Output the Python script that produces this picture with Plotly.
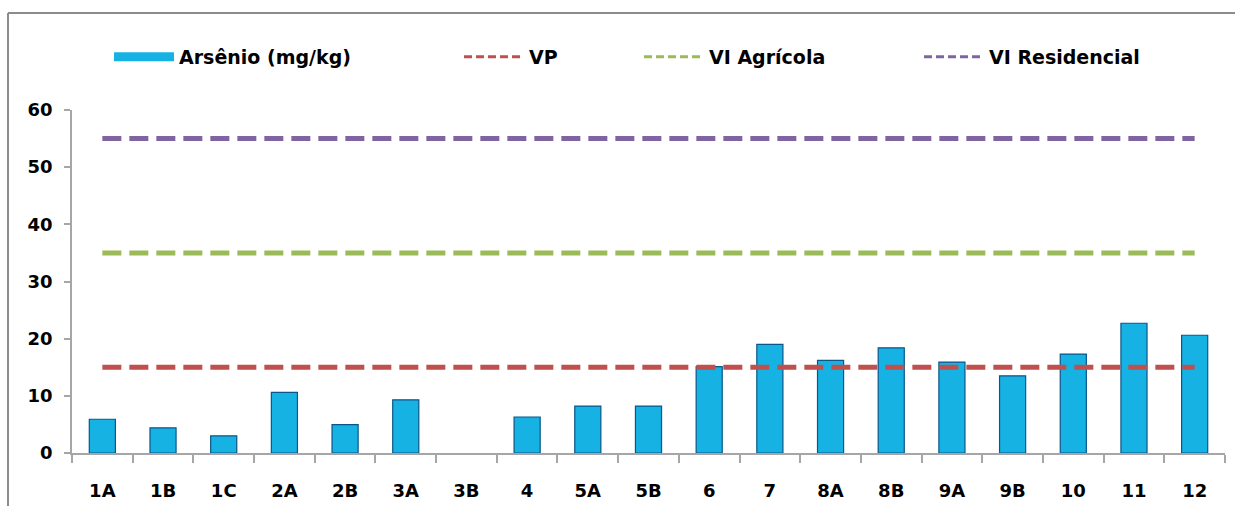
import plotly.graph_objects as go

categories = ["1A", "1B", "1C", "2A", "2B", "3A", "3B", "4", "5A", "5B",
              "6", "7", "8A", "8B", "9A", "9B", "10", "11", "12"]
arsenio = [5.9, 4.4, 3.0, 10.6, 4.95, 9.3, None, 6.3, 8.2, 8.2,
           15.1, 19.0, 16.2, 18.4, 15.9, 13.5, 17.3, 22.7, 20.6]
vp = [15] * len(categories)
vi_agricola = [35] * len(categories)
vi_residencial = [55] * len(categories)
y_ticks = [0, 10, 20, 30, 40, 50, 60]

FONT = "DejaVu Sans"
AXIS_GREY = "#a6a6a6"
BAR_COLOR = "#16b2e4"

fig = go.Figure()
fig.add_trace(go.Bar(
    x=categories, y=arsenio, name="Arsênio (mg/kg)", showlegend=False,
    marker=dict(color=BAR_COLOR, line=dict(color="#0b5688", width=1.2)),
))
line_series = [(vp, "VP", "#c0504d"),
               (vi_agricola, "VI Agrícola", "#9bbb59"),
               (vi_residencial, "VI Residencial", "#8064a2")]
for vals, name, color in line_series:
    fig.add_trace(go.Scatter(
        x=categories, y=vals, name=name, mode="lines", showlegend=False,
        line=dict(color=color, width=5, dash="19px,8px"),
    ))

# legend entries (legend-only keys styled like the reference legend)
legend_keys = [("Arsênio (mg/kg)", BAR_COLOR, 9, "solid", "legend"),
               ("VP", "#c0504d", 3, "8px,4px", "legend2"),
               ("VI Agrícola", "#9bbb59", 3, "8px,4px", "legend3"),
               ("VI Residencial", "#8064a2", 3, "8px,4px", "legend4")]
for name, color, w, dash, lg in legend_keys:
    fig.add_trace(go.Scatter(
        x=[None], y=[None], name=f"<b>{name}</b>", mode="lines", legend=lg,
        line=dict(color=color, width=w, dash=dash), hoverinfo="skip",
    ))

def leg(xpx):
    return dict(orientation="h", x=(xpx - 72) / 1153, xanchor="left",
                y=1.155, yanchor="middle", itemwidth=60,
                font=dict(family=FONT, size=19, color="black"),
                bgcolor="rgba(0,0,0,0)")

fig.update_layout(
    width=1235, height=506,
    margin=dict(l=72, r=10, t=110, b=53, autoexpand=False),
    paper_bgcolor="white", plot_bgcolor="white",
    bargap=0.57,
    font=dict(family=FONT, size=18, color="black"),
    showlegend=True,
    legend=leg(109), legend2=leg(459), legend3=leg(639), legend4=leg(919),
    xaxis=dict(type="category", showgrid=False, showline=True, linecolor=AXIS_GREY,
               linewidth=2, ticks="outside", tickson="boundaries", ticklen=8,
               tickcolor=AXIS_GREY, tickwidth=1.5, automargin=False,
               tickfont=dict(family=FONT, size=18, color="black", weight="bold"),
               ticklabelstandoff=20, fixedrange=True),
    yaxis=dict(range=[0, 60], tickvals=y_ticks, showgrid=False, showline=True,
               linecolor=AXIS_GREY, linewidth=1.5, ticks="outside", ticklen=6,
               tickcolor=AXIS_GREY, tickwidth=1.5, zeroline=False, automargin=False,
               tickfont=dict(family=FONT, size=18, color="black", weight="bold"),
               ticklabelstandoff=8, fixedrange=True),
    shapes=[dict(type="line", xref="paper", yref="paper",
                 x0=-0.0555, x1=1.1, y0=1.2828, y1=1.2828,
                 line=dict(color="#8c8c8c", width=2), layer="below"),
            dict(type="line", xref="paper", yref="paper",
                 x0=-0.0555, x1=-0.0555, y0=-0.3, y1=1.2828,
                 line=dict(color="#8c8c8c", width=2), layer="below")],
)

fig.write_html("out.html")
